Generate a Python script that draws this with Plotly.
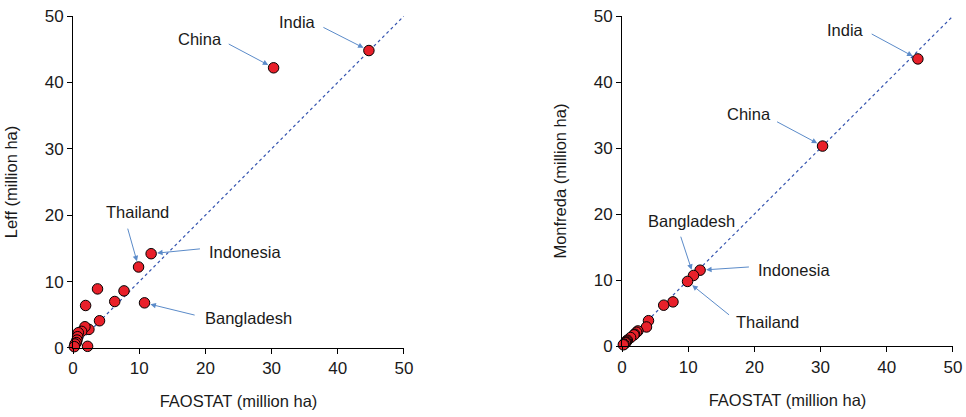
import plotly.graph_objects as go

# ---- data (million ha) ----
countries = ["India", "China", "Indonesia", "Bangladesh", "Thailand",
             "c6", "c7", "c8", "c9", "c10", "c11", "c12", "c13", "c14",
             "c15", "c16", "c17", "c18", "c19", "c20"]
faostat = [44.7, 30.3, 11.8, 10.8, 9.9, 7.7, 6.3, 4.0, 3.7, 2.4,
           2.2, 1.9, 1.8, 1.3, 0.8, 0.7, 0.6, 0.5, 0.3, 0.2]
leff = [44.8, 42.2, 14.2, 6.8, 12.2, 8.6, 7.0, 4.1, 8.9, 2.8,
        0.25, 6.4, 3.2, 2.5, 2.3, 1.7, 1.2, 0.8, 0.6, 0.2]
monfreda = [43.5, 30.3, 11.5, 10.7, 9.8, 6.7, 6.2, 3.85, 2.9, 2.3,
            2.1, 1.8, 1.7, 1.3, 0.9, 0.75, 0.6, 0.5, 0.3, 0.2]
diag = [0, 50]
ticks = [0, 10, 20, 30, 40, 50]

FONT = "Liberation Sans, Arial, sans-serif"
FS = 16.5
TICKFS = 17
TXT = "#1a1a1a"
RED = "#e8202a"
ARROW = "#5b8bc9"

fig = go.Figure()

for xa, ya, yvals in (("x", "y", leff), ("x2", "y2", monfreda)):
    fig.add_trace(go.Scatter(x=diag, y=diag, mode="lines", xaxis=xa, yaxis=ya,
                             line=dict(color="#3655b0", width=1.2, dash="dot"),
                             hoverinfo="skip", showlegend=False))
    fig.add_trace(go.Scatter(x=faostat, y=yvals, mode="markers", xaxis=xa, yaxis=ya,
                             text=countries, cliponaxis=False, showlegend=False,
                             marker=dict(color=RED, size=10.5,
                                         line=dict(color="black", width=1))))

# label layout: (text position, arrow tail position) per panel
labels_left = {
    "India": ((33.9, 49.1), (37.6, 48.4)),
    "China": ((19.2, 46.6), (23.3, 45.9)),
    "Thailand": ((9.8, 20.5), (8.2, 18.2)),
    "Indonesia": ((26.0, 14.5), (19.4, 14.95)),
    "Bangladesh": ((26.5, 4.5), (18.6, 4.9)),
}
labels_right = {
    "India": ((33.8, 47.9), (37.5, 47.4)),
    "China": ((19.2, 35.1), (23.2, 34.1)),
    "Bangladesh": ((10.5, 19.0), (8.8, 16.8)),
    "Indonesia": ((26.0, 11.6), (19.4, 12.0)),
    "Thailand": ((22.0, 3.6), (16.4, 4.55)),
}

annotations = []
for (xr, yr, yvals, labels) in (("x", "y", leff, labels_left),
                                ("x2", "y2", monfreda, labels_right)):
    for name, (tpos, tail) in labels.items():
        i = countries.index(name)
        annotations.append(dict(x=tpos[0], y=tpos[1], xref=xr, yref=yr, text=name,
                                showarrow=False,
                                font=dict(family=FONT, size=FS, color=TXT)))
        annotations.append(dict(x=faostat[i], y=yvals[i], xref=xr, yref=yr, text="",
                                showarrow=True, axref=xr, ayref=yr,
                                ax=tail[0], ay=tail[1], arrowhead=2, arrowsize=1.1,
                                arrowwidth=1, arrowcolor=ARROW, standoff=6))

axis_common = dict(range=[0, 50], tickvals=ticks, showline=True, linecolor="black",
                   linewidth=1, ticks="outside", ticklen=5, tickcolor="black",
                   showgrid=False, zeroline=False, automargin=False,
                   ticklabeloverflow="allow",
                   tickfont=dict(family=FONT, size=TICKFS, color=TXT))
title_font = dict(family=FONT, size=FS, color=TXT)

fig.update_layout(
    width=966, height=417,
    margin=dict(l=0, r=0, t=0, b=0),
    paper_bgcolor="white", plot_bgcolor="white",
    font=dict(family=FONT, size=FS, color=TXT),
    xaxis=dict(domain=[0.0756, 0.4182], anchor="y",
               title=dict(text="FAOSTAT (million ha)", standoff=18, font=title_font),
               **axis_common),
    yaxis=dict(domain=[0.1655, 0.9616], anchor="x",
               title=dict(text="Leff (million ha)", standoff=22, font=title_font),
               **axis_common),
    xaxis2=dict(domain=[0.6439, 0.9865], anchor="y2",
                title=dict(text="FAOSTAT (million ha)", standoff=18, font=title_font),
                **axis_common),
    yaxis2=dict(domain=[0.170, 0.9616], anchor="x2",
                title=dict(text="Monfreda (million ha)", standoff=22, font=title_font),
                **axis_common),
    annotations=annotations,
)

fig.write_html(
    "out.html",
    config={"displayModeBar": False},
    post_script="document.body.style.margin='0';document.body.style.overflow='hidden';",
)
